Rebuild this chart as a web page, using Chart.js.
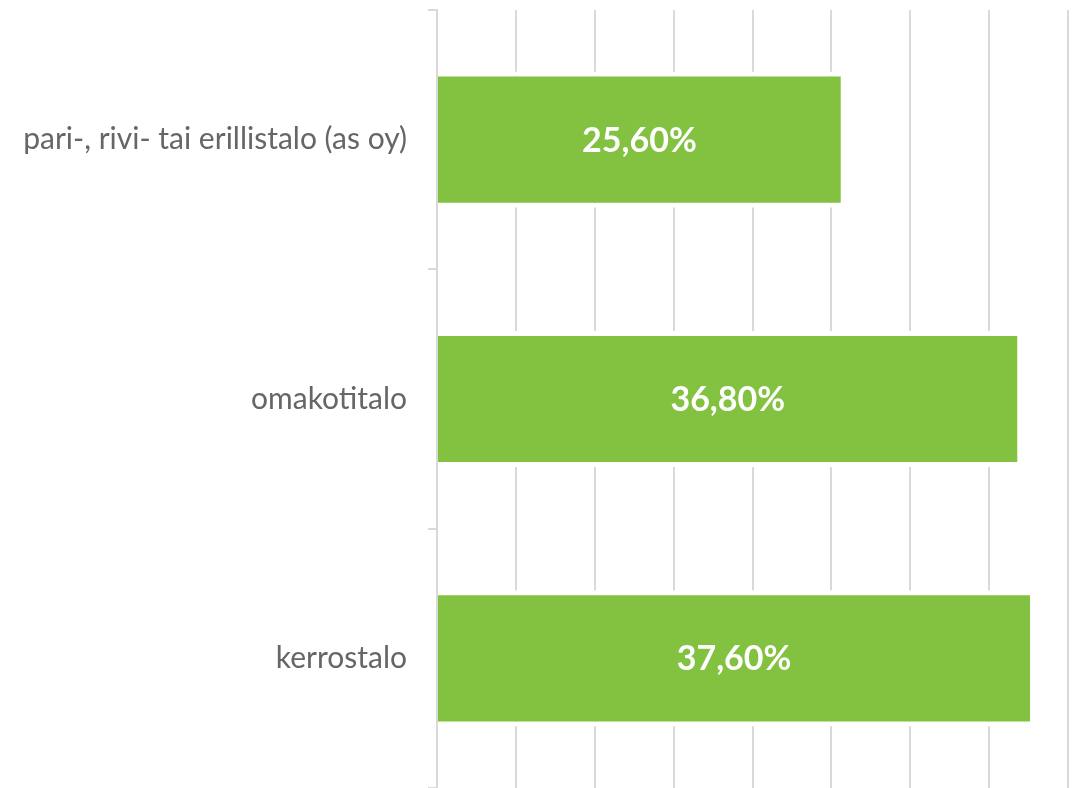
<!DOCTYPE html>
<html>
<head>
<meta charset="utf-8">
<script src="https://cdn.jsdelivr.net/npm/chart.js@4/dist/chart.umd.min.js"></script>
<style>
  html, body { margin: 0; padding: 0; background: #fff; }
  #wrap { width: 1074px; height: 788px; }
</style>
</head>
<body>
<div id="wrap"><canvas id="housingChart"></canvas></div>
<script>
const categories = ['pari-, rivi- tai erillistalo (as oy)', 'omakotitalo', 'kerrostalo'];
const shares = [25.6, 36.8, 37.6];
const xTicks = [0, 5, 10, 15, 20, 25, 30, 35, 40];

const barColor = '#83c241';
const gridColor = '#d9d9d9';

// white percentage text in the middle of each bar
const barLabels = {
  id: 'barLabels',
  afterDatasetsDraw(chart) {
    const ctx = chart.ctx;
    const meta = chart.getDatasetMeta(0);
    ctx.save();
    ctx.fillStyle = '#ffffff';
    ctx.font = 'bold 34px Lato, "Open Sans", sans-serif';
    ctx.textAlign = 'center';
    ctx.textBaseline = 'middle';
    meta.data.forEach((bar, i) => {
      const x = (bar.base + bar.x) / 2;
      ctx.fillText(shares[i].toFixed(2).replace('.', ',') + '%', x, bar.y + 1);
    });
    ctx.restore();
  }
};

const ctx = document.getElementById('housingChart').getContext('2d');

new Chart(ctx, {
  type: 'bar',
  data: {
    labels: categories,
    datasets: [{
      data: shares,
      backgroundColor: barColor,
      borderColor: '#ffffff',
      borderWidth: { top: 5, bottom: 5, left: 0, right: 0 },
      borderSkipped: false,
      barPercentage: 0.525,
      categoryPercentage: 1
    }]
  },
  options: {
    indexAxis: 'y',
    responsive: true,
    maintainAspectRatio: false,
    animation: false,
    layout: { padding: { left: 0, top: 10, right: 6, bottom: 0 } },
    plugins: {
      legend: { display: false },
      tooltip: { enabled: false }
    },
    scales: {
      x: {
        min: 0,
        max: 40,
        afterBuildTicks: (scale) => { scale.ticks = xTicks.map(v => ({ value: v })); },
        afterFit: (scale) => { scale.height = 0; },
        ticks: { display: false },
        grid: { color: gridColor, lineWidth: 2, drawTicks: false },
        border: { display: false }
      },
      y: {
        offset: true,
        afterFit: (scale) => {
          scale.width = 437;
          scale.paddingTop = 0;
          scale.paddingBottom = 0;
        },
        ticks: {
          color: '#666666',
          padding: 21,
          font: { family: 'Lato, "Open Sans", sans-serif', size: 30 }
        },
        grid: {
          offset: true,
          drawOnChartArea: false,
          tickLength: 9,
          color: gridColor,
          lineWidth: 2
        },
        border: { display: true, color: gridColor, width: 2 }
      }
    }
  },
  plugins: [barLabels]
});
</script>
</body>
</html>
